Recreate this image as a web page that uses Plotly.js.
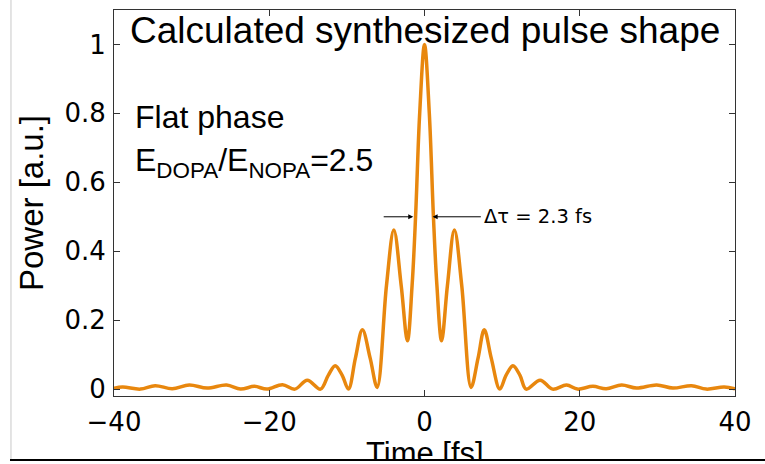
<!DOCTYPE html>
<html>
<head>
<meta charset="utf-8">
<script src="https://cdn.plot.ly/plotly-3.0.1.min.js"></script>
<style>html,body{margin:0;padding:0;background:#fff;}#chart{width:765px;height:464px;}</style>
</head>
<body>
<div id="chart"></div>
<script>
// Time axis (fs) and normalized power
const timeFs = [-40.0, -38.9, -36.6, -34.7, -32.5, -30.3, -28.0, -25.5, -23.7, -21.9, -20.3, -18.3, -16.7, -15.1, -13.4, -12.4, -11.5, -10.6, -9.8, -8.9, -8.0, -7.0, -6.1, -4.9, -3.95, -3.0, -2.2, -1.6, -1.15, -0.62, 0, 0.62, 1.15, 1.6, 2.2, 2.95, 3.85, 4.8, 6.0, 6.9, 7.7, 8.6, 9.7, 10.5, 11.4, 12.3, 13.1, 14.9, 16.5, 18.3, 19.7, 21.7, 23.4, 25.4, 27.3, 29.9, 32.0, 34.4, 36.3, 38.6, 40.0];
const power = [0.002, 0.006, 0.000, 0.010, 0.001, 0.012, 0.003, 0.012, 0.000, 0.008, 0.000, 0.013, 0.000, 0.026, 0.000, 0.040, 0.068, 0.040, 0.000, 0.090, 0.172, 0.090, 0.005, 0.300, 0.462, 0.300, 0.140, 0.300, 0.500, 0.800, 1.000, 0.800, 0.500, 0.300, 0.140, 0.300, 0.462, 0.300, 0.005, 0.090, 0.172, 0.090, 0.000, 0.040, 0.068, 0.040, 0.000, 0.026, 0.000, 0.012, 0.000, 0.008, 0.001, 0.012, 0.003, 0.012, 0.003, 0.010, 0.000, 0.006, 0.001];
const xTicks = [-40, -20, 0, 20, 40];
const yTicks = [0, 0.2, 0.4, 0.6, 0.8, 1];
const yTickText = ['0', '0.2', '0.4', '0.6', '0.8', '1'];
// FWHM markers (arrow tail -> head, fs) at half maximum
const fwhmLevel = 0.5;
const fwhmLeft = {tail: -5.45, head: -1.45};
const fwhmRight = {tail: 7.45, head: 1.05};

const FONT = 'Liberation Sans, Arial, Helvetica, sans-serif';
const WIDE = 'DejaVu Sans, Verdana, sans-serif';
const axisLine = '#333333';

const trace = {
  x: timeFs, y: power, type: 'scatter', mode: 'lines',
  line: {color: '#E8870E', width: 3.5, shape: 'spline', smoothing: 1},
  hoverinfo: 'x+y'
};

const layout = {
  width: 765, height: 464,
  margin: {l: 114, r: 30, t: 10, b: 68},
  paper_bgcolor: '#ffffff', plot_bgcolor: '#ffffff',
  showlegend: false,
  font: {family: FONT, color: '#000000'},
  xaxis: {
    range: [-40, 40], tickvals: xTicks, showgrid: false, zeroline: false,
    showline: true, mirror: 'ticks', linecolor: axisLine, linewidth: 1,
    ticks: 'inside', ticklen: 6, tickcolor: axisLine,
    tickfont: {family: WIDE, size: 26, color: '#000'},
    ticklabelstandoff: 3,
    automargin: false
  },
  yaxis: {
    range: [-0.02, 1.1], tickvals: yTicks, ticktext: yTickText, showgrid: false, zeroline: false,
    showline: true, mirror: 'ticks', linecolor: axisLine, linewidth: 1,
    ticks: 'inside', ticklen: 6, tickcolor: axisLine,
    tickfont: {family: WIDE, size: 26, color: '#000'},
    ticklabelstandoff: 2,
    title: {text: 'Power [a.u.]', font: {family: FONT, size: 33, color: '#000'}, standoff: 10},
    automargin: false
  },
  shapes: [
    {type: 'line', xref: 'paper', yref: 'paper', x0: -0.1659, x1: -0.1659, y0: 1.03, y1: -0.1658,
     line: {color: '#c8c8c8', width: 1}}
  ],
  annotations: [
    {xref: 'paper', yref: 'paper', x: 0.5, y: 0.948, xanchor: 'center', yanchor: 'middle',
     text: 'Calculated synthesized pulse shape', showarrow: false,
     font: {family: FONT, size: 37, color: '#000'}},
    {xref: 'paper', yref: 'paper', x: 0.03, y: 0.722, xanchor: 'left', yanchor: 'middle',
     text: 'Flat phase', showarrow: false, font: {family: FONT, size: 32, color: '#000'}},
    {xref: 'paper', yref: 'paper', x: 0.03, y: 0.605, xanchor: 'left', yanchor: 'middle',
     text: 'E<sub>DOPA</sub>/E<sub>NOPA</sub>=2.5', showarrow: false, font: {family: FONT, size: 32, color: '#000'}},
    {xref: 'x', yref: 'y', x: fwhmRight.tail, y: fwhmLevel, xanchor: 'left', yanchor: 'middle',
     text: 'Δτ = 2.3 fs', showarrow: false, xshift: 0, font: {family: WIDE, size: 19.5, color: '#000'}},
    {xref: 'x', yref: 'y', axref: 'x', ayref: 'y', x: fwhmLeft.head, y: fwhmLevel, ax: fwhmLeft.tail, ay: fwhmLevel,
     text: '', showarrow: true, arrowhead: 2, arrowsize: 1, arrowwidth: 1, arrowcolor: '#000', standoff: 0, startstandoff: 0},
    {xref: 'x', yref: 'y', axref: 'x', ayref: 'y', x: fwhmRight.head, y: fwhmLevel, ax: fwhmRight.tail, ay: fwhmLevel,
     text: '', showarrow: true, arrowhead: 2, arrowsize: 1, arrowwidth: 1, arrowcolor: '#000', standoff: 0, startstandoff: 0},
    // x-axis title (cut off by the slide edge in the reference)
    {xref: 'paper', yref: 'paper', x: 0.5, y: -0.0984, xanchor: 'center', yanchor: 'top',
     text: 'Time [fs]', showarrow: false, font: {family: FONT, size: 31, color: '#000'}},
    // slide frame: black rule at the bottom, white strip below it
    {xref: 'paper', yref: 'paper', x: -0.1675, y: -0.1632, xanchor: 'left', yanchor: 'top',
     text: ' ', showarrow: false, width: 760, height: 2, bgcolor: '#000000', borderpad: 0, borderwidth: 0,
     font: {size: 1}},
    {xref: 'paper', yref: 'paper', x: -0.19, y: -0.1684, xanchor: 'left', yanchor: 'top',
     text: ' ', showarrow: false, width: 800, height: 8, bgcolor: '#ffffff', borderpad: 0, borderwidth: 0,
     font: {size: 1}}
  ]
};

Plotly.newPlot('chart', [trace], layout, {staticPlot: true, displayModeBar: false});
</script>
</body>
</html>
